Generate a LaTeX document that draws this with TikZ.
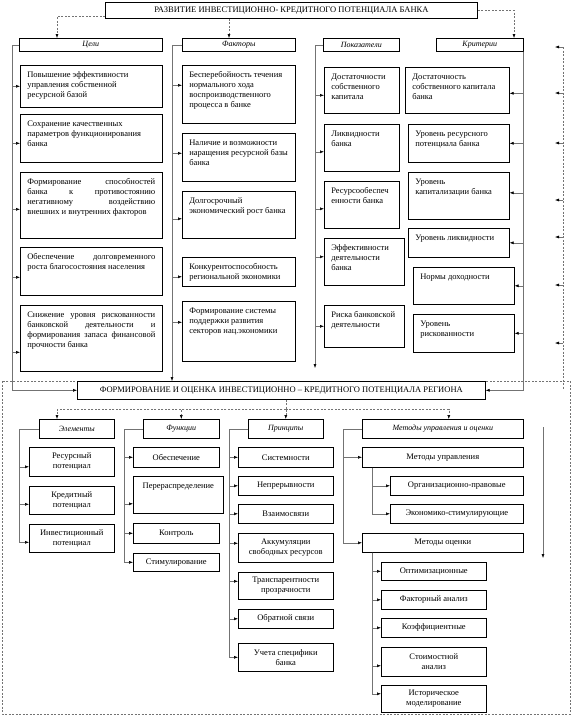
\documentclass[tikz,border=0pt]{standalone}
\usepackage{fontspec}
\setmainfont{Liberation Serif}
\usetikzlibrary{arrows.meta,calc}
\newcommand\tbox[7]{\node[box,anchor=north west,inner xsep=7pt,inner ysep=0pt] (#1) at (#2,#3) {\parbox[c][#5pt][t]{\dimexpr#4pt-14pt\relax}{\vspace*{5pt}#6\strut#7}};}
\newcommand\hbx[6]{\node[box,anchor=north west,minimum width=#4pt,minimum height=#5pt,inner sep=0pt,font=\fontsize{8}{9}\selectfont\itshape] (#1) at (#2,#3) {#6};}
\newcommand\cbx[6]{\node[box,anchor=north west,minimum width=#4pt,minimum height=#5pt,inner xsep=4pt,inner ysep=0pt] (#1) at (#2,#3) {\parbox{\dimexpr#4pt-8pt\relax}{\centering #6}};}
\tikzset{
  box/.style={draw=black, line width=0.6pt, fill=white},
  ln/.style={draw=black!55, line width=0.5pt},
  dln/.style={ln, dash pattern=on 2pt off 1.5pt},
  arr/.style={ln, -{Latex[length=4pt,width=3pt,color=black]}},
  darr/.style={dln, -{Latex[length=4pt,width=3pt,color=black]}},
}
\begin{document}
\hyphenpenalty=10000 \exhyphenpenalty=10000
\begin{tikzpicture}[x=1pt,y=-1pt, every node/.style={font=\fontsize{8.5}{10}\selectfont}]
\useasboundingbox (0,0) rectangle (573,715);
\draw[dln] (2,381) rectangle (570,714);

% ---------- top section ----------
\node[box,line width=0.8pt,anchor=north west,minimum width=372pt,minimum height=16pt,inner sep=0pt] (tb) at (105,2) {РАЗВИТИЕ ИНВЕСТИЦИОННО- КРЕДИТНОГО ПОТЕНЦИАЛА БАНКА};

\hbx{cH}{19}{38}{143}{13}{Цели}
\hbx{fH}{182}{38}{113}{13}{Факторы}
\hbx{pH}{323}{38}{76}{13}{Показатели}
\hbx{kH}{436}{38}{87}{13}{Критерии}

\tbox{c1}{20}{65}{142}{42}{\raggedright}{Повышение эффективности\\ управления собственной\\ ресурсной базой}
\tbox{c2}{20}{114}{142}{48}{\raggedright}{Сохранение качественных\\ параметров функционирования\\ банка}
\tbox{c3}{20}{172}{142}{66}{}{Формирование способностей\linebreak банка к противостоянию\linebreak негативному воздействию\linebreak внешних и внутренних факторов}
\tbox{c4}{20}{247}{142}{48}{}{Обеспечение долговременного\linebreak роста благосостояния населения}
\tbox{c5}{20}{305}{142}{66}{}{Снижение уровня рискованности\linebreak банковской деятельности и\linebreak формирования запаса финансовой\linebreak прочности банка}

\tbox{f1}{182}{65}{113}{58}{\raggedright}{Бесперебойность течения\\ нормального хода\\ воспроизводственного\\ процесса в банке}
\tbox{f2}{182}{133}{113}{48}{\raggedright}{Наличие и возможности\\ наращения ресурсной базы\\ банка}
\tbox{f3}{182}{191}{113}{47}{\raggedright}{Долгосрочный\\ экономический рост банка}
\tbox{f4}{182}{257}{113}{29}{\raggedright}{Конкурентоспособность\\ региональной экономики}
\tbox{f5}{182}{301}{113}{60}{\raggedright}{Формирование системы\\ поддержки развития\\ секторов нац.экономики}

\tbox{p1}{324}{67}{75}{46}{\raggedright}{Достаточности\\ собственного\\ капитала}
\tbox{p2}{324}{124}{75}{47}{\raggedright}{Ликвидности\\ банка}
\tbox{p3}{324}{181}{75}{47}{\raggedright}{Ресурсообеспеч\\ енности банка}
\tbox{p4}{324}{238}{80}{47}{\raggedright}{Эффективности\\ деятельности\\ банка}
\tbox{p5}{324}{305}{80}{42}{\raggedright}{Риска банковской\\ деятельности}

\tbox{k1}{405}{67}{104}{46}{\raggedright}{Достаточность\\ собственного капитала\\ банка}
\tbox{k2}{408}{124}{101}{38}{\raggedright}{Уровень ресурсного\\ потенциала банка}
\tbox{k3}{408}{172}{101}{47}{\raggedright}{Уровень\\ капитализации банка}
\tbox{k4}{408}{228}{101}{29}{\raggedright}{Уровень ликвидности}
\tbox{k5}{413}{267}{101}{37}{\raggedright}{Нормы доходности}
\tbox{k6}{413}{314}{101}{38}{\raggedright}{Уровень\\ рискованности}

\node[box,anchor=north west,minimum width=408pt,minimum height=18pt,inner sep=0pt] (rb) at (77,381) {ФОРМИРОВАНИЕ И ОЦЕНКА ИНВЕСТИЦИОННО – КРЕДИТНОГО ПОТЕНЦИАЛА РЕГИОНА};

% ---------- bottom section ----------
\hbx{eH}{39}{419}{75}{19}{Элементы}
\hbx{uH}{143}{419}{76}{19}{Функции}
\hbx{prH}{248}{419}{75}{19}{Принципы}
\hbx{mH}{362}{419}{161}{19}{Методы управления и оценки}

\cbx{e1}{29}{447}{85}{29}{Ресурсный\\ потенциал}
\cbx{e2}{29}{486}{85}{28}{Кредитный\\ потенциал}
\cbx{e3}{29}{524}{85}{28}{Инвестиционный\\ потенциал}

\cbx{u1}{133}{447}{86}{20}{Обеспечение}
\tbox{u2}{133}{476}{90}{37}{\centering}{Перераспределение}
\cbx{u3}{133}{523}{86}{20}{Контроль}
\cbx{u4}{133}{553}{86}{18}{Стимулирование}

\cbx{r1}{238}{447}{95}{20}{Системности}
\cbx{r2}{238}{476}{95}{19}{Непрерывности}
\cbx{r3}{238}{504}{95}{19}{Взаимосвязи}
\cbx{r4}{238}{533}{95}{29}{Аккумуляции\\ свободных ресурсов}
\cbx{r5}{238}{572}{95}{27}{Транспарентности\\ прозрачности}
\cbx{r6}{238}{609}{95}{19}{Обратной связи}
\cbx{r7}{238}{643}{95}{28}{Учета специфики\\ банка}

\cbx{m1}{362}{447}{161}{20}{Методы управления}
\cbx{m1a}{390}{476}{133}{19}{Организационно-правовые}
\cbx{m1b}{390}{504}{133}{19}{Экономико-стимулирующие}
\cbx{m2}{362}{533}{161}{19}{Методы оценки}
\cbx{o1}{381}{562}{105}{18}{Оптимизационные}
\cbx{o2}{381}{590}{105}{19}{Факторный анализ}
\cbx{o3}{381}{618}{105}{19}{Коэффициентные}
\cbx{o4}{381}{647}{105}{29}{Стоимостной\\ анализ}
\cbx{o5}{381}{685}{105}{27}{Историческое\\ моделирование}

% ---------- connectors: top ----------
\draw[darr] ([yshift=-6pt]tb.west) -| ([xshift=38pt]cH.north west);
\coordinate (fa) at ([xshift=47pt]fH.north west);
\draw[darr] (fa |- tb.south) -- (fa);
\draw[darr] (tb.east) -| ([xshift=78pt]kH.north west);

\path (cH.west) ++(-7,0) coordinate (ctk);
\foreach \n/\s in {c1/0,c2/-5,c3/-4,c4/-6,c5/-14} \draw[arr] (cH.west) -- (ctk) |- ([yshift=\s pt]\n.west);
\draw[arr] (cH.west) -- (ctk) |- (rb.west);

\path (fH.west) ++(-10,0) coordinate (ftk);
\foreach \n/\s in {f1/9,f2/4,f3/-4,f4/-5,f5/9} \draw[arr] (fH.west) -- (ftk) |- ([yshift=\s pt]\n.west);
\draw[arr] (fH.west) -- (ftk) -- (ftk |- rb.north);

\path (pH.west) ++(-8,0) coordinate (ptk);
\foreach \n/\s in {p1/-5,p2/-4,p3/-4,p4/5,p5/0} \draw[arr] (pH.west) -- (ptk) |- ([yshift=\s pt]\n.west);
\coordinate (pend) at ($(ptk |- rb.north)+(0,-13)$);
\draw[arr] (pH.west) -- (ptk) -- (pend);

\foreach \n/\s in {k1/-3,k2/0,k3/3,k4/0,k5/0,k6/0} \draw[arr] (kH.south east) |- ([yshift=\s pt]\n.east);
\draw[arr] (kH.south east) |- (rb.east);

\coordinate (rtop) at (563,47);
\coordinate (rbot) at (563,390);
\draw[dln] (rtop) -- (rbot);
\foreach \y [count=\i] in {47,93,143,200,237,285,343} {
  \coordinate (ra\i) at (563,\y);
  \coordinate (rl\i) at (555,\y);
  \draw[arr] (ra\i) -- (rl\i);
}

% ---------- connectors: bottom ----------
\path (rb.south -| prH.north) ++(0,10) coordinate (bj);
\draw[dln] (rb.south -| prH.north) -- (bj);
\draw[darr] (bj) -| ([xshift=18pt]eH.north west);
\draw[darr] (bj) -| (uH.north);
\draw[darr] (bj) -- (prH.north);
\draw[darr] (bj) -| ([xshift=6pt]mH.north);

\path (eH.west) ++(-20,0) coordinate (etk);
\foreach \n/\s in {e1/-5,e2/-4,e3/-4} \draw[arr] (eH.west) -- (etk) |- ([yshift=\s pt]\n.west);
\path (uH.west) ++(-19,0) coordinate (utk);
\foreach \n/\s in {u1/0,u2/-9,u3/0,u4/0} \draw[arr] (uH.west) -- (utk) |- ([yshift=\s pt]\n.west);
\path (prH.west) ++(-19,0) coordinate (rtk);
\foreach \n/\s in {r1/0,r2/0,r3/0,r4/4.5,r5/4.5,r6/0,r7/0} \draw[arr] (prH.west) -- (rtk) |- ([yshift=\s pt]\n.west);
\path (mH.west) ++(-19,0) coordinate (mtk);
\draw[arr] (mH.west) -- (mtk) |- (m1.west);
\draw[arr] (mH.west) -- (mtk) |- (m2.west);
\path (m1.south west) ++(10,0) coordinate (m1t);
\foreach \n in {m1a,m1b} \draw[arr] (m1t) |- (\n.west);
\path (m2.south west) ++(10,0) coordinate (m2t);
\foreach \n/\s in {o1/0,o2/0,o3/0,o4/-4,o5/5} \draw[arr] (m2t) |- ([yshift=\s pt]\n.west);

\coordinate (fv1) at (543,427);
\coordinate (fv2) at (543,558);
\draw[arr] (fv1) -- (fv2);
\end{tikzpicture}
\end{document}
